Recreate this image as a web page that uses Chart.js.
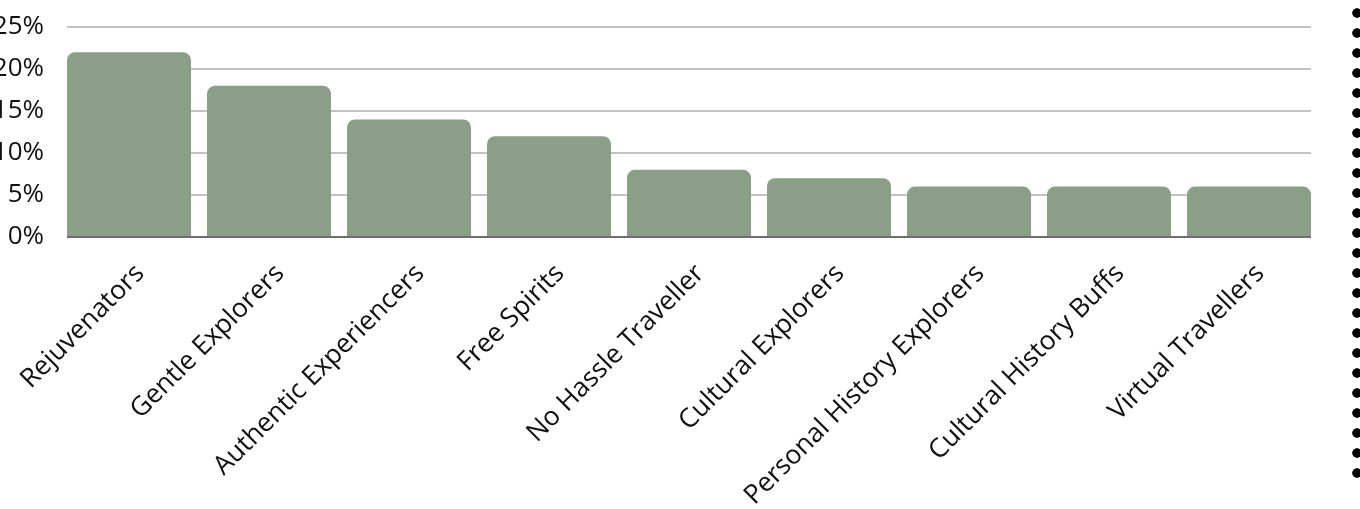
<!DOCTYPE html>
<html lang="en">
<head>
    <meta charset="UTF-8">
    <title>Traveller segments</title>
    <script src="https://cdn.jsdelivr.net/npm/chart.js"></script>
    <style>
        html, body { margin: 0; padding: 0; background: #fff; overflow: hidden; }
        #wrap { position: relative; width: 1360px; height: 509px; }
        #dots {
            position: absolute; left: 1352px; top: 3px; width: 10px; height: 480px;
            background: radial-gradient(circle, #000 4.4px, rgba(0,0,0,0) 5.1px) 0 0 / 10px 20px repeat-y;
        }
    </style>
</head>
<body>
<div id="wrap">
    <canvas id="segChart" width="1360" height="509"></canvas>
    <div id="dots"></div>
</div>

<script>
    const segments = ['Rejuvenators', 'Gentle Explorers', 'Authentic Experiencers', 'Free Spirits',
        'No Hassle Traveller', 'Cultural Explorers', 'Personal History Explorers',
        'Cultural History Buffs', 'Virtual Travellers'];
    const shares = [22, 18, 14, 12, 8, 7, 6, 6, 6];
    const yTicks = [0, 5, 10, 15, 20, 25];

    // horizontal lines only span from the first bar's left edge to the last bar's right edge
    function barSpan(chart) {
        const bars = chart.getDatasetMeta(0).data;
        const first = bars[0], last = bars[bars.length - 1];
        return [first.x - first.width / 2, last.x + last.width / 2];
    }

    const gridLines = {
        id: 'gridLines',
        beforeDatasetsDraw(chart) {
            const ctx = chart.ctx, y = chart.scales.y;
            const [left, right] = barSpan(chart);
            ctx.save();
            ctx.strokeStyle = '#c2c2c2';
            ctx.lineWidth = 2;
            yTicks.forEach(v => {
                if (v === 0) return;
                const py = Math.round(y.getPixelForValue(v));
                ctx.beginPath();
                ctx.moveTo(left, py);
                ctx.lineTo(right, py);
                ctx.stroke();
            });
            ctx.restore();
        },
        afterDatasetsDraw(chart) {
            const ctx = chart.ctx, y = chart.scales.y;
            const [left, right] = barSpan(chart);
            const py = Math.round(y.getPixelForValue(0));
            ctx.save();
            ctx.strokeStyle = '#6e6e6e';
            ctx.lineWidth = 2;
            ctx.beginPath();
            ctx.moveTo(left, py);
            ctx.lineTo(right, py);
            ctx.stroke();
            ctx.restore();
        }
    };

    Chart.defaults.font.family = '"Open Sans", sans-serif';

    new Chart(document.getElementById('segChart').getContext('2d'), {
        type: 'bar',
        data: {
            labels: segments,
            datasets: [{
                data: shares,
                backgroundColor: '#8a9e88',
                borderRadius: { topLeft: 8, topRight: 8 },
                borderSkipped: 'bottom',
                categoryPercentage: 1,
                barPercentage: 124 / 140
            }]
        },
        options: {
            responsive: false,
            animation: false,
            layout: { padding: { top: 27, right: 41, bottom: 0, left: 0 } },
            plugins: { legend: { display: false }, tooltip: { enabled: false } },
            scales: {
                x: {
                    grid: { display: false },
                    border: { display: false },
                    ticks: {
                        color: '#111',
                        font: { size: 26.5 },
                        minRotation: 45,
                        maxRotation: 45,
                        padding: 13,
                        labelOffset: 11
                    },
                    afterFit(s) {
                        s.height = 272;
                        s.paddingLeft = 0;
                        s.paddingRight = 0;
                    }
                },
                y: {
                    min: 0,
                    max: 25,
                    grid: { display: false },
                    border: { display: false },
                    ticks: {
                        stepSize: 5,
                        color: '#111',
                        font: { size: 26 },
                        padding: 7,
                        callback: v => v + '%'
                    },
                    afterFit(s) { s.width = 59; }
                }
            }
        },
        plugins: [gridLines]
    });
</script>
</body>
</html>
